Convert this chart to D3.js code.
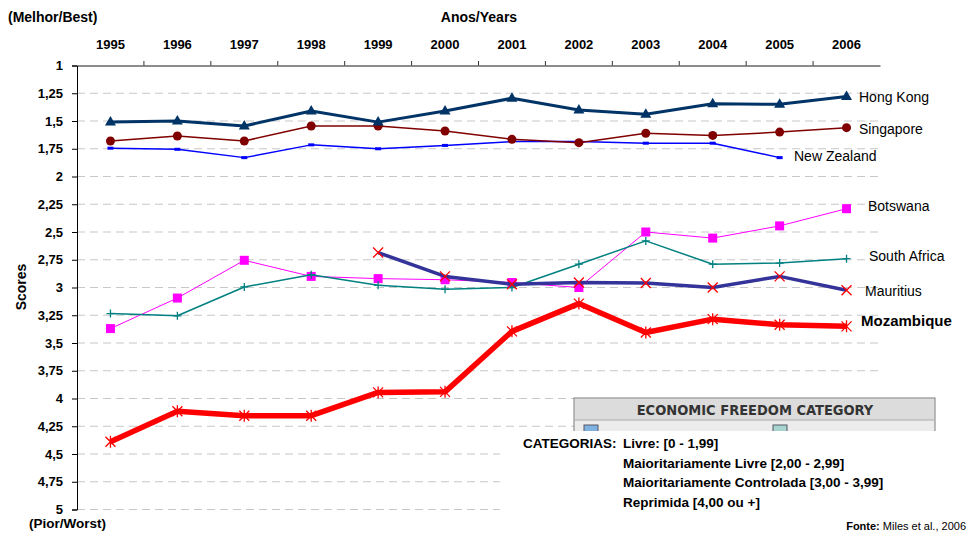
<!DOCTYPE html>
<html>
<head>
<meta charset="utf-8">
<script src="https://cdn.jsdelivr.net/npm/d3@7"></script>
<style>
  body { margin: 0; background: #fff; }
  svg { font-family: "Liberation Sans", Arial, sans-serif; }
</style>
</head>
<body>
<div class="graph_container"></div>
<script>
const w = 968;
const h = 534;

const years = [1995, 1996, 1997, 1998, 1999, 2000, 2001, 2002, 2003, 2004, 2005, 2006];
const yTicks = [1, 1.25, 1.5, 1.75, 2, 2.25, 2.5, 2.75, 3, 3.25, 3.5, 3.75, 4, 4.25, 4.5, 4.75, 5];

// null = no value for that year
const hongKong   = [1.51, 1.50, 1.545, 1.41, 1.51, 1.41, 1.295, 1.40, 1.44, 1.345, 1.35, 1.28];
const singapore  = [1.68, 1.635, 1.68, 1.545, 1.545, 1.59, 1.665, 1.695, 1.61, 1.63, 1.60, 1.56];
const newZealand = [1.745, 1.755, 1.83, 1.715, 1.75, 1.72, 1.685, 1.685, 1.70, 1.70, 1.83, null];
const botswana   = [3.37, 3.095, 2.755, 2.90, 2.92, 2.93, 2.955, 3.0, 2.50, 2.555, 2.445, 2.29];
const southAfrica= [3.235, 3.255, 2.995, 2.885, 2.98, 3.015, 3.0, 2.79, 2.58, 2.79, 2.78, 2.74];
const mauritius  = [null, null, null, null, 2.685, 2.90, 2.97, 2.955, 2.96, 3.0, 2.90, 3.025];
const mozambique = [4.39, 4.115, 4.155, 4.155, 3.945, 3.94, 3.395, 3.145, 3.405, 3.285, 3.335, 3.35];

const categories = [
  'Livre: [0 - 1,99]',
  'Maioritariamente Livre [2,00 - 2,99]',
  'Maioritariamente Controlada [3,00 - 3,99]',
  'Reprimida [4,00 ou +]'
];

const series = [
  {name: 'Botswana', values: botswana, color: '#ff00ff', width: 1, marker: 'square', lx: 868, ly: 206},
  {name: 'South Africa', values: southAfrica, color: '#008080', width: 1.5, marker: 'plus', lx: 869, ly: 256},
  {name: 'New Zealand', values: newZealand, color: '#0000ff', width: 1.5, marker: 'dash', lx: 794, ly: 156},
  {name: 'Singapore', values: singapore, color: '#800000', width: 1.5, marker: 'circle', lx: 859, ly: 129},
  {name: 'Hong Kong', values: hongKong, color: '#003366', width: 3, marker: 'triangle', lx: 859, ly: 97},
  {name: 'Mauritius', values: mauritius, color: '#333399', width: 3.5, marker: 'cross', lx: 865, ly: 291},
  {name: 'Mozambique', values: mozambique, color: '#ff0000', width: 5.5, marker: 'star', lx: 861, ly: 321, bold: true}
];

const svg = d3.select('.graph_container').append('svg').attr('width', w).attr('height', h);

const xScale = d3.scaleBand().domain(years).range([77, 880]);
const yScale = d3.scaleLinear().domain([1, 5]).range([65.5, 509.5]);
const cx = y => xScale(y) + xScale.bandwidth() / 2;
const fmt = d => String(d).replace('.', ',');

// grid
svg.append('g')
  .selectAll('line')
  .data(yTicks.slice(1))
  .enter()
  .append('line')
  .attr('x1', 77).attr('x2', 880)
  .attr('y1', d => yScale(d)).attr('y2', d => yScale(d))
  .attr('stroke', '#c8c8c8')
  .attr('stroke-width', 1.2)
  .attr('stroke-dasharray', '8,5');

// legend image (economic freedom category box, cut off)
const box = svg.append('g');
box.append('rect').attr('x', 574).attr('y', 398).attr('width', 361).attr('height', 34)
  .attr('fill', '#ececec').attr('stroke', '#7a7a7a').attr('stroke-width', 1);
box.append('rect').attr('x', 575).attr('y', 399).attr('width', 359).attr('height', 21).attr('fill', '#dcdcdc');
box.append('line').attr('x1', 575).attr('x2', 934).attr('y1', 420).attr('y2', 420).attr('stroke', '#aaa');
box.append('text').attr('x', 755).attr('y', 415).attr('text-anchor', 'middle')
  .attr('font-family', '"DejaVu Sans Condensed", "Liberation Sans Narrow", sans-serif')
  .attr('font-size', 14.5).attr('font-weight', 'bold').attr('fill', '#333')
  .text('ECONOMIC FREEDOM CATEGORY');
box.append('rect').attr('x', 584).attr('y', 425).attr('width', 14).attr('height', 10)
  .attr('fill', '#7fb2e0').attr('stroke', '#556');
box.append('rect').attr('x', 773).attr('y', 425).attr('width', 14).attr('height', 10)
  .attr('fill', '#a8d4d0').attr('stroke', '#556');
svg.append('rect').attr('x', 500).attr('y', 431).attr('width', 468).attr('height', 103).attr('fill', '#fff');

// top x axis
const xAxis = d3.axisTop(xScale).tickSize(0).tickPadding(0);
const gx = svg.append('g').attr('transform', 'translate(0,65.5)').call(xAxis);
gx.select('.domain').attr('stroke', '#666').attr('stroke-width', 1.5);
gx.selectAll('text').attr('y', -17).attr('font-size', 13).attr('font-weight', 'bold')
  .attr('fill', '#000').attr('font-family', '"Liberation Sans", Arial, sans-serif');
svg.append('g').selectAll('line')
  .data(years.slice(1))
  .enter()
  .append('line')
  .attr('x1', d => xScale(d)).attr('x2', d => xScale(d))
  .attr('y1', 61).attr('y2', 65.5)
  .attr('stroke', '#333');

// left y axis
const yAxis = d3.axisLeft(yScale).tickValues(yTicks).tickFormat(fmt).tickSize(5).tickPadding(9);
const gy = svg.append('g').attr('transform', 'translate(77,0)').call(yAxis);
gy.select('.domain').attr('stroke', '#000');
gy.selectAll('text').attr('font-size', 13).attr('font-weight', 'bold')
  .attr('fill', '#000').attr('font-family', '"Liberation Sans", Arial, sans-serif');

// titles
svg.append('text').attr('x', 8).attr('y', 22).attr('font-size', 14).attr('font-weight', 'bold').text('(Melhor/Best)');
svg.append('text').attr('x', 479).attr('y', 22).attr('text-anchor', 'middle').attr('font-size', 14).attr('font-weight', 'bold').text('Anos/Years');
svg.append('text').attr('x', 29).attr('y', 528).attr('font-size', 13.5).attr('font-weight', 'bold').text('(Pior/Worst)');
svg.append('text').attr('transform', 'translate(26,287) rotate(-90)').attr('text-anchor', 'middle')
  .attr('font-size', 14).attr('font-weight', 'bold').text('Scores');

// lines
const line = d3.line()
  .defined(d => d.v != null)
  .x(d => cx(d.year))
  .y(d => yScale(d.v));

series.forEach(s => {
  const pts = years.map((year, i) => ({year: year, v: s.values[i]}));
  svg.append('path')
    .datum(pts)
    .attr('d', line)
    .attr('fill', 'none')
    .attr('stroke', s.color)
    .attr('stroke-width', s.width)
    .attr('stroke-linejoin', 'round');

  const g = svg.append('g').selectAll('g')
    .data(pts.filter(d => d.v != null))
    .enter()
    .append('g')
    .attr('transform', d => 'translate(' + cx(d.year) + ',' + yScale(d.v) + ')');

  if (s.marker === 'triangle') {
    g.append('path').attr('d', 'M0,-6L5.5,3.5L-5.5,3.5Z').attr('fill', s.color);
  } else if (s.marker === 'circle') {
    g.append('circle').attr('r', 4.5).attr('fill', s.color);
  } else if (s.marker === 'square') {
    g.append('rect').attr('x', -4.5).attr('y', -4.5).attr('width', 9).attr('height', 9).attr('fill', s.color);
  } else if (s.marker === 'dash') {
    g.append('rect').attr('x', -3).attr('y', -1.5).attr('width', 6).attr('height', 3).attr('fill', s.color);
  } else if (s.marker === 'plus') {
    g.append('path').attr('d', 'M-4,0H4M0,-4V4').attr('stroke', s.color).attr('stroke-width', 1.3);
  } else if (s.marker === 'cross') {
    g.append('path').attr('d', 'M-5,-5L5,5M5,-5L-5,5').attr('stroke', '#ff0000').attr('stroke-width', 1.3);
  } else if (s.marker === 'star') {
    g.append('path').attr('d', 'M-5,-5L5,5M5,-5L-5,5M0,-6V6').attr('stroke', '#ff0000').attr('stroke-width', 1.3);
  }

  svg.append('text')
    .attr('x', s.lx).attr('y', s.ly + 5)
    .attr('font-size', s.bold ? 15 : 14)
    .attr('font-weight', s.bold ? 'bold' : 'normal')
    .text(s.name);
});

// category notes
svg.append('text').attr('x', 523).attr('y', 448).attr('font-size', 13.5).attr('font-weight', 'bold').text('CATEGORIAS:');
svg.append('g').selectAll('text')
  .data(categories)
  .enter()
  .append('text')
  .attr('x', 623)
  .attr('y', (d, i) => 448 + i * 19.5)
  .attr('font-size', 13.5)
  .attr('font-weight', 'bold')
  .text(d => d);

const src = svg.append('text').attr('x', 966).attr('y', 530).attr('text-anchor', 'end').attr('font-size', 11);
src.append('tspan').attr('font-weight', 'bold').text('Fonte:');
src.append('tspan').text(' Miles et al., 2006');
</script>
</body>
</html>
